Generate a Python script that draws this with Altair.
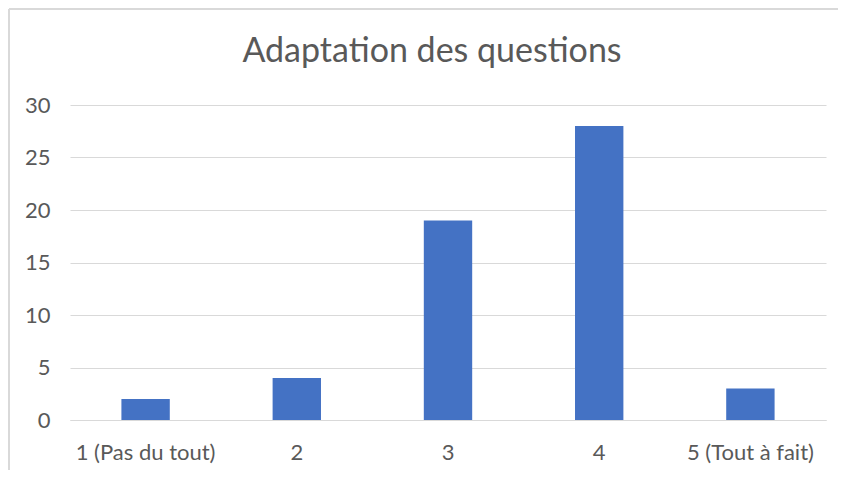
import altair as alt
import pandas as pd

categories = ["1 (Pas du tout)", "2", "3", "4", "5 (Tout à fait)"]
values = [2, 4, 19, 28, 3]

df = pd.DataFrame({"cat": categories, "val": values})

W, H = 756, 315

bars = alt.Chart(df).mark_bar(color="#4472C4").encode(
    x=alt.X("cat:N", sort=categories, title=None,
            scale=alt.Scale(paddingInner=0.68, paddingOuter=0.34),
            axis=alt.Axis(labelAngle=0, labelFontSize=22, labelColor="#595959",
                          labelFont="Lato", ticks=False, domain=True,
                          domainColor="#d9d9d9", labelPadding=22)),
    y=alt.Y("val:Q", title=None,
            scale=alt.Scale(domain=[0, 30]),
            axis=alt.Axis(values=[0, 5, 10, 15, 20, 25, 30], labelFontSize=22,
                          labelColor="#595959", labelFont="Lato", ticks=False,
                          domain=False, gridColor="#d9d9d9", labelPadding=20)),
)

border_left = alt.Chart(df).mark_rule(color="#d9d9d9", strokeWidth=1.5, clip=False).encode(
    x=alt.value(-61), y=alt.value(-96), y2=alt.value(H + 70)
)
border_top = alt.Chart(df).mark_rule(color="#d9d9d9", strokeWidth=1.5, clip=False).encode(
    x=alt.value(-61), x2=alt.value(W + 40), y=alt.value(-96)
)

chart = alt.layer(border_left, border_top, bars).properties(
    width=W, height=H,
    autosize=alt.AutoSizeParams(type="none"),
    padding={"left": 62, "top": 97, "right": 12, "bottom": 50},
    title=alt.TitleParams("Adaptation des questions", fontSize=34, font="Lato",
                          fontWeight="normal", color="#595959", anchor="middle",
                          frame="group", dx=-16, offset=-61),
).configure_view(stroke=None)

chart.save("out.html", embed_options={"renderer": "svg", "actions": False})
